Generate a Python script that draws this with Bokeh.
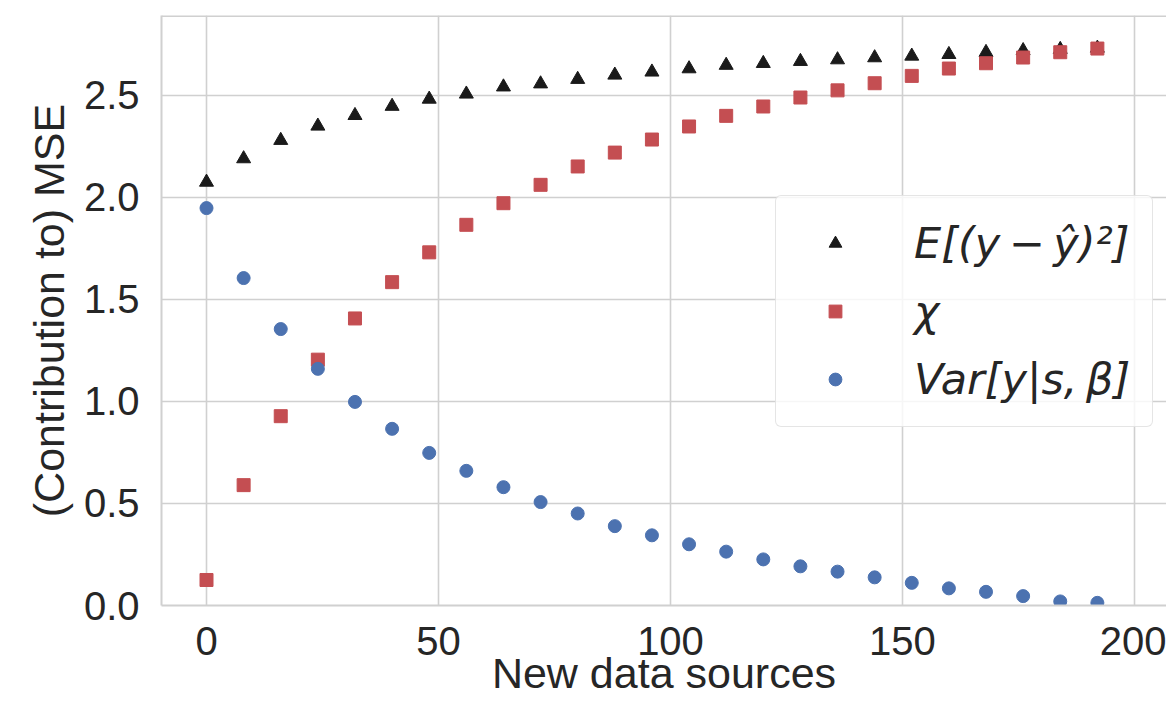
from bokeh.plotting import figure
from bokeh.models import Range1d, FixedTicker, Legend, LegendItem, Span, PrintfTickFormatter
from bokeh.embed import file_html
from bokeh.resources import INLINE

# ---- data ----
sources = [0, 8, 16, 24, 32, 40, 48, 56, 64, 72, 80, 88, 96, 104, 112, 120,
           128, 136, 144, 152, 160, 168, 176, 184, 192]
mse = [2.075, 2.19, 2.28, 2.35, 2.402, 2.447, 2.482, 2.507, 2.542, 2.557,
       2.579, 2.600, 2.615, 2.631, 2.648, 2.657, 2.667, 2.675, 2.685, 2.693,
       2.701, 2.711, 2.72, 2.726, 2.732]
chi = [0.125, 0.59, 0.928, 1.205, 1.407, 1.585, 1.731, 1.866, 1.972, 2.062,
       2.152, 2.22, 2.284, 2.348, 2.400, 2.446, 2.490, 2.525, 2.560, 2.596,
       2.632, 2.658, 2.686, 2.712, 2.730]
var = [1.948, 1.605, 1.355, 1.16, 0.998, 0.866, 0.748, 0.66, 0.58, 0.507,
       0.451, 0.389, 0.344, 0.300, 0.264, 0.226, 0.192, 0.166, 0.138, 0.111,
       0.084, 0.067, 0.046, 0.020, 0.013]
x_ticks = [0, 50, 100, 150, 200]
y_ticks = [0.0, 0.5, 1.0, 1.5, 2.0, 2.5]
labels = ["E[(y\u2009\u2212\u2009ŷ)²]", "χ", "Var[y|s,\u2009β]"]

GRID = "#d0d0d0"
TXT = "#262626"

p = figure(width=1166, height=707, output_backend="svg", toolbar_location=None,
           x_range=Range1d(-9.7, 206.9), y_range=Range1d(0, 2.892),
           min_border_left=161, min_border_right=0, min_border_top=15,
           min_border_bottom=102)

p.outline_line_color = None
p.background_fill_color = "white"
p.border_fill_color = "white"

for ax in (p.xaxis[0], p.yaxis[0]):
    ax.axis_line_color = GRID
    ax.axis_line_width = 2
    ax.major_tick_line_color = None
    ax.minor_tick_line_color = None
    ax.major_tick_out = 0
    ax.major_tick_in = 0
    ax.major_label_text_font = "Liberation Sans"
    ax.major_label_text_font_size = "40px"
    ax.major_label_text_color = TXT
    ax.axis_label_text_font = "Liberation Sans"
    ax.axis_label_text_font_size = "43px"
    ax.axis_label_text_font_style = "normal"
    ax.axis_label_text_color = TXT

p.xaxis[0].ticker = FixedTicker(ticks=x_ticks)
p.yaxis[0].ticker = FixedTicker(ticks=y_ticks)
p.yaxis[0].formatter = PrintfTickFormatter(format="%.1f")
p.xaxis[0].axis_label = "New data sources"
p.yaxis[0].axis_label = "(Contribution to) MSE"
p.xaxis[0].major_label_standoff = 21
p.yaxis[0].major_label_standoff = 22
p.xaxis[0].axis_label_standoff = -9
p.yaxis[0].axis_label_standoff = 8

p.xgrid.ticker = FixedTicker(ticks=x_ticks)
p.ygrid.ticker = FixedTicker(ticks=y_ticks)
p.xgrid.grid_line_color = GRID
p.ygrid.grid_line_color = GRID
p.xgrid.grid_line_width = 1.6
p.ygrid.grid_line_width = 1.6

p.add_layout(Span(location=2.892, dimension="width", line_color=GRID, line_width=3))

r_mse = p.scatter(sources, mse, marker="triangle", size=14, color="#1a1a1a")
r_chi = p.scatter(sources, chi, marker="square", size=13, color="#C44E52")
r_var = p.scatter(sources, var, marker="circle", size=13, color="#4C72B0")

legend = Legend(items=[LegendItem(label=labels[0], renderers=[r_mse]),
                       LegendItem(label=labels[1], renderers=[r_chi]),
                       LegendItem(label=labels[2], renderers=[r_var])],
                location=(614, 178))
legend.label_text_font = "DejaVu Sans"
legend.label_text_font_style = "italic"
legend.label_text_font_size = "43px"
legend.label_text_color = TXT
legend.glyph_width = 74
legend.glyph_height = 32
legend.label_height = 50
legend.label_standoff = 42
legend.spacing = 18
legend.padding = 22
legend.margin = 0
legend.border_line_color = "#cccccc"
legend.border_line_width = 1.5
legend.background_fill_color = "white"
legend.background_fill_alpha = 0.8
if "border_radius" in Legend.properties():
    legend.border_radius = 6
p.add_layout(legend, "center")

open("out.html", "w").write(file_html(p, INLINE))
